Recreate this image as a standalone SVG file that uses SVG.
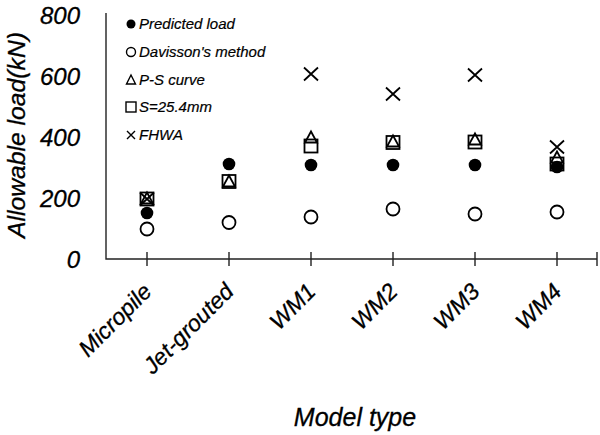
<svg xmlns="http://www.w3.org/2000/svg" xmlns:xlink="http://www.w3.org/1999/xlink" width="600" height="435" viewBox="0 0 600 435">
<style>
  text { font-family: "Liberation Sans", Arial, sans-serif; font-style: italic; fill: #000; stroke: #000; stroke-width: 0.3; }
  .tick { font-size: 24px; text-anchor: end; }
  .cat { font-size: 23px; text-anchor: end; }
  .leg { font-size: 15px; stroke-width: 0.2; }
  .ytitle { font-size: 24px; text-anchor: middle; }
  .xtitle { font-size: 25px; text-anchor: middle; }
  .axis { stroke: #222; stroke-width: 1.4; fill: none; }
  .mk { stroke: #000; stroke-width: 1.8; fill: none; }
  .fill { fill: #000; stroke: none; }
  .open { fill: #fff; stroke: #000; stroke-width: 1.8; }
</style>
<defs>
  <circle id="fc" r="6.3" class="fill"/>
  <circle id="oc" r="6.5" class="open"/>
  <path id="tri" d="M0,-6.5 L6,4.5 L-6,4.5 Z" class="mk"/>
  <rect id="sq" x="-6.5" y="-6.5" width="13" height="13" class="mk"/>
  <path id="xx" d="M-7,-6.5 L7,6.5 M-7,6.5 L7,-6.5" class="mk"/>
</defs>

<g id="axes">
  <path class="axis" d="M106,13 V259 H597"/>
  <path class="axis" d="M147,252 V266 M229,252 V266 M311,252 V266 M393,252 V266 M475,252 V266 M557,252 V266 M597,252 V266"/>
</g>

<g id="y-ticks">
  <text class="tick" x="80" y="23.5">800</text>
  <text class="tick" x="80" y="84.5">600</text>
  <text class="tick" x="80" y="145.5">400</text>
  <text class="tick" x="80" y="206.5">200</text>
  <text class="tick" x="80" y="267.5">0</text>
</g>

<g id="y-title">
  <text class="ytitle" transform="translate(25,135) rotate(-90)" textLength="206" lengthAdjust="spacingAndGlyphs">Allowable load(kN)</text>
</g>

<g id="x-labels">
  <text class="cat" transform="translate(153,293) rotate(-45)">Micropile</text>
  <text class="cat" transform="translate(235,293) rotate(-45)">Jet-grouted</text>
  <text class="cat" transform="translate(317,293) rotate(-45)">WM1</text>
  <text class="cat" transform="translate(399,293) rotate(-45)">WM2</text>
  <text class="cat" transform="translate(481,293) rotate(-45)">WM3</text>
  <text class="cat" transform="translate(563,293) rotate(-45)">WM4</text>
</g>

<g id="x-title">
  <text class="xtitle" x="355" y="426">Model type</text>
</g>

<g id="series-davisson">
  <use xlink:href="#oc" x="147" y="229"/>
  <use xlink:href="#oc" x="229" y="222.5"/>
  <use xlink:href="#oc" x="311" y="217"/>
  <use xlink:href="#oc" x="393" y="209"/>
  <use xlink:href="#oc" x="475" y="214"/>
  <use xlink:href="#oc" x="557" y="212"/>
</g>

<g id="series-s254">
  <use xlink:href="#sq" x="147" y="199"/>
  <use xlink:href="#sq" x="229" y="181.5"/>
  <use xlink:href="#sq" x="311" y="146"/>
  <use xlink:href="#sq" x="393" y="142.5"/>
  <use xlink:href="#sq" x="475" y="142"/>
  <use xlink:href="#sq" x="557" y="164"/>
</g>

<g id="series-ps">
  <use xlink:href="#tri" x="147" y="199"/>
  <use xlink:href="#tri" x="229" y="182"/>
  <use xlink:href="#tri" x="311" y="138"/>
  <use xlink:href="#tri" x="393" y="142"/>
  <use xlink:href="#tri" x="475" y="140"/>
  <use xlink:href="#tri" x="557" y="158"/>
</g>

<g id="series-fhwa">
  <use xlink:href="#xx" x="147" y="199"/>
  <use xlink:href="#xx" x="311" y="74"/>
  <use xlink:href="#xx" x="393" y="94"/>
  <use xlink:href="#xx" x="475" y="75"/>
  <use xlink:href="#xx" x="557" y="147"/>
</g>

<g id="series-predicted">
  <use xlink:href="#fc" x="147" y="213"/>
  <use xlink:href="#fc" x="229" y="164"/>
  <use xlink:href="#fc" x="311" y="165"/>
  <use xlink:href="#fc" x="393" y="165"/>
  <use xlink:href="#fc" x="475" y="165"/>
  <use xlink:href="#fc" x="557" y="167"/>
</g>

<g id="legend">
  <circle cx="131" cy="24" r="4.5" class="fill"/>
  <text class="leg" x="139" y="29">Predicted load</text>
  <circle cx="131" cy="52" r="4.5" class="open" style="stroke-width:1.4"/>
  <text class="leg" x="139" y="57">Davisson's method</text>
  <path d="M131,75 L135.5,84 L126.5,84 Z" class="mk" style="stroke-width:1.4"/>
  <text class="leg" x="139" y="85">P-S curve</text>
  <rect x="126" y="102" width="10" height="10" class="mk" style="stroke-width:1.4"/>
  <text class="leg" x="139" y="112">S=25.4mm</text>
  <path d="M127,131 L135,139 M127,139 L135,131" class="mk" style="stroke-width:1.4"/>
  <text class="leg" x="139" y="140">FHWA</text>
</g>
</svg>
